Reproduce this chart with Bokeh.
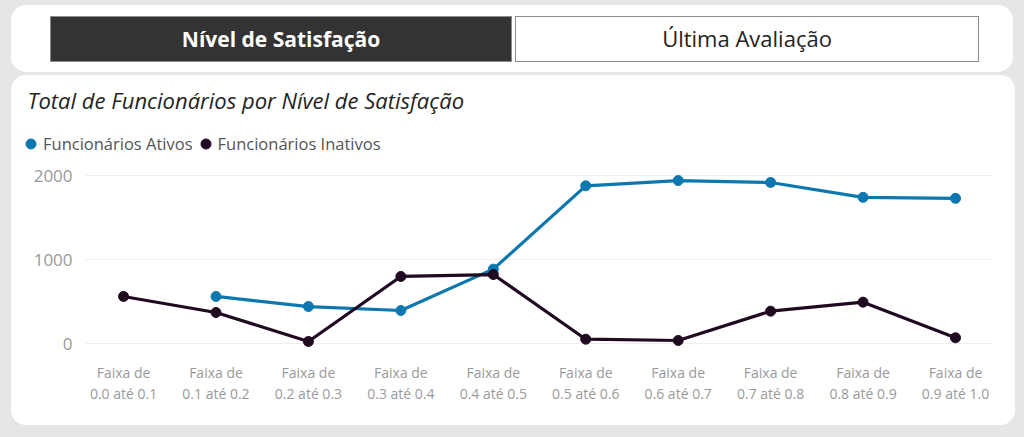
import numpy as np
from bokeh.plotting import figure
from bokeh.models import (Range1d, FixedTicker, LinearAxis, Legend, LegendItem,
                          Div, GlobalInlineStyleSheet)
from bokeh.layouts import column
from bokeh.embed import file_html
from bokeh.resources import INLINE

# ---- data ----
buttons = ["Nível de Satisfação", "Última Avaliação"]
chart_title = "Total de Funcionários por Nível de Satisfação"
series_names = ["Funcionários Ativos", "Funcionários Inativos"]
faixa_line1 = ["Faixa de"] * 10
faixa_line2 = ["0.0 até 0.1", "0.1 até 0.2", "0.2 até 0.3", "0.3 até 0.4", "0.4 até 0.5",
               "0.5 até 0.6", "0.6 até 0.7", "0.7 até 0.8", "0.8 até 0.9", "0.9 até 1.0"]
ativos = [np.nan, 560, 440, 393, 885, 1877, 1940, 1917, 1740, 1728]
inativos = [560, 369, 24, 798, 821, 51, 36, 385, 492, 68]
y_ticks = [0, 1000, 2000]

FONT = "Open Sans"
BLUE = "#0C78AF"
DARK = "#200A22"
BG = "#e6e6e6"
GLOBAL_CSS = GlobalInlineStyleSheet(css="body { background-color: #e6e6e6; }")

# ---- top card with the two buttons ----
btn_common = ("height:46px;box-sizing:border-box;border:1.5px solid #8c8c8c;"
              "font-family:'Open Sans';display:flex;align-items:center;justify-content:center;")
top_html = (
    '<div style="display:flex;gap:3px;padding:11px 0 0 39px;">'
    f'<div style="width:462px;background:#333333;color:#ffffff;font-weight:bold;font-size:21px;{btn_common}">{buttons[0]}</div>'
    f'<div style="width:464px;background:#ffffff;color:#252423;font-size:22px;{btn_common}">{buttons[1]}</div>'
    '</div>'
)
top = Div(text=top_html, width=1002, height=67, margin=(5, 0, 0, 11),
          styles={"background-color": "#ffffff", "border-radius": "15px"},
          stylesheets=[GLOBAL_CSS])

# ---- chart card ----
xs = list(range(len(faixa_line2)))
y_axis_x = -0.411
x_end = 9.411
p = figure(width=1004, height=350, x_range=Range1d(-1.104, x_end), y_range=Range1d(-83.3, 2654.8),
           toolbar_location=None, output_backend="svg",
           min_border_left=10, min_border_right=22, min_border_top=45, min_border_bottom=75,
           outline_line_color=None, background_fill_color="white", border_fill_color="white",
           title=chart_title, margin=(0, 0, 0, 11),
           styles={"border-radius": "15px", "overflow": "hidden", "background-color": "#ffffff"})

p.title.text_font = FONT
p.title.text_font_size = "22px"
p.title.text_font_style = "italic"
p.title.text_color = "#252423"
p.title.align = "left"
p.title.offset = 6
p.title.standoff = 11

p.xgrid.visible = False
p.ygrid.visible = False
p.segment(x0=[y_axis_x] * len(y_ticks), y0=y_ticks, x1=[x_end] * len(y_ticks), y1=y_ticks,
          line_color="#eeeeee", line_width=1)

p.yaxis.ticker = FixedTicker(ticks=y_ticks)
p.yaxis.fixed_location = y_axis_x
p.yaxis.axis_line_color = None
p.yaxis.major_tick_line_color = None
p.yaxis.minor_tick_line_color = None
p.yaxis.major_label_standoff = 7
p.yaxis.major_label_text_font = FONT
p.yaxis.major_label_text_font_size = "17px"
p.yaxis.major_label_text_color = "#9a9a9a"

p.xaxis.ticker = FixedTicker(ticks=xs)
p.xaxis.major_label_overrides = {i: t for i, t in zip(xs, faixa_line1)}
x2 = LinearAxis(ticker=FixedTicker(ticks=xs),
                major_label_overrides={i: t for i, t in zip(xs, faixa_line2)})
p.add_layout(x2, "below")
for ax, st in ((p.xaxis[0], 6), (x2, -7)):
    ax.axis_line_color = None
    ax.major_tick_line_color = None
    ax.minor_tick_line_color = None
    ax.major_label_standoff = st
    ax.major_label_text_font = FONT
    ax.major_label_text_font_size = "14px"
    ax.major_label_text_color = "#9a9a9a"

p.line(xs, ativos, line_color=BLUE, line_width=3.2)
s1 = p.scatter(xs, ativos, size=10, fill_color=BLUE, line_color=BLUE)
p.line(xs, inativos, line_color=DARK, line_width=3.2)
s2 = p.scatter(xs, inativos, size=10, fill_color=DARK, line_color=DARK)

legend = Legend(items=[LegendItem(label=series_names[0], renderers=[s1]),
                       LegendItem(label=series_names[1], renderers=[s2])],
                orientation="horizontal", location=(-3, 194),
                margin=0, padding=0, spacing=0, label_standoff=0,
                glyph_width=25, glyph_height=25,
                label_text_font=FONT, label_text_font_size="16.5px",
                label_text_color="#555555",
                background_fill_alpha=0, border_line_color=None)
p.add_layout(legend)

layout = column(top, p, spacing=3)
html = file_html(layout, INLINE, title="Nível de Satisfação")
html = html.replace("<body", '<body style="background-color:#e6e6e6;"', 1)
open("out.html", "w").write(html)
